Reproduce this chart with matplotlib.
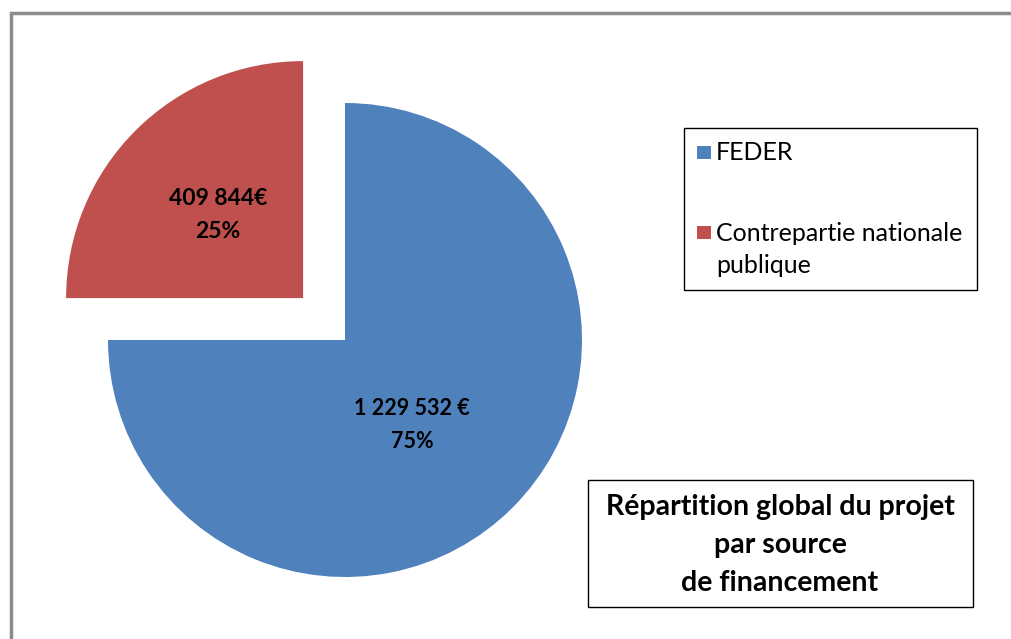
import matplotlib
matplotlib.use('Agg')
import matplotlib.pyplot as plt
from matplotlib.patches import Rectangle

# data
categories = ['FEDER', 'Contrepartie nationale\npublique']
values = [1229532, 409844]
value_labels = ['1 229 532 €\n75%', '409 844€\n25%']
colors = ['#4F81BD', '#C0504D']
title = 'Répartition global du projet\npar source\nde financement'

FONT = 'Lato'
W, H = 1011, 639

fig = plt.figure(figsize=(W / 100, H / 100), dpi=100)
ax = fig.add_axes([0, 0, 1, 1])

# pie in pixel coords (y up); explode is an absolute offset here
CX, CY, R = 345, H - 340, 237
wedges, _ = ax.pie(values, colors=colors, startangle=90, counterclock=False,
                   explode=[0, 0.25 * R], radius=R, center=(CX, CY),
                   wedgeprops=dict(linewidth=0))

ax.set_xlim(0, W)
ax.set_ylim(0, H)
ax.set_aspect('auto')
ax.axis('off')

# outer chart border (only top and left visible)
ax.add_patch(Rectangle((10.5, -20), W + 20, H - 12 + 20 - 0.5, fill=False,
                       edgecolor='#8c8c8c', lw=2.5, zorder=0))

# value labels
ax.text(412, H - 425, value_labels[0], ha='center', va='center',
        fontsize=15.5, fontweight='bold', family=FONT, color='black',
        linespacing=1.7)
ax.text(218, H - 215, value_labels[1], ha='center', va='center',
        fontsize=16.5, fontweight='bold', family=FONT, color='black',
        linespacing=1.65)

# legend box
ax.add_patch(Rectangle((684, H - 290), 293, 162, fill=True, facecolor='white',
                       edgecolor='black', lw=1))
leg_y = [H - 153, H - 233]
for c, lab, y in zip(colors, categories, leg_y):
    ax.add_patch(Rectangle((697, y - 6), 14, 13, facecolor=c, edgecolor='none'))
    nl = lab.count('\n')
    ax.text(716, y - nl * 16.5, lab, ha='left', va='center',
            fontsize=18, family=FONT, color='black', linespacing=1.5)

# title box
ax.add_patch(Rectangle((588, H - 607), 385, 127, fill=True, facecolor='white',
                       edgecolor='black', lw=1))
ax.text(780, H - 545, title, ha='center', va='center', fontsize=20.5,
        fontweight='bold', family=FONT, color='black', linespacing=1.55)

fig.savefig('out.png', dpi=100)
